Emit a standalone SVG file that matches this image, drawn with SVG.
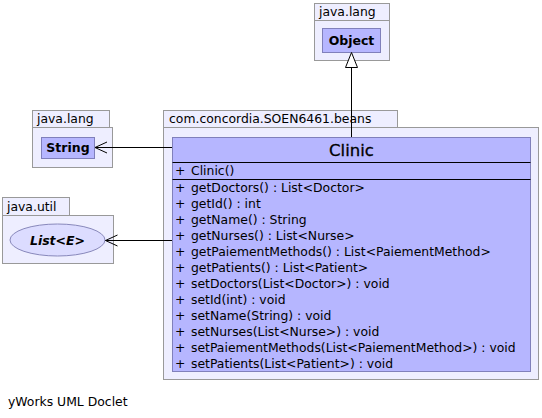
<svg xmlns="http://www.w3.org/2000/svg" width="542" height="418" viewBox="0 0 542 418">
<style>
.pkg{fill:#eeeeff;stroke:#999999;stroke-width:1}
.cls{fill:#b6b6ff;stroke:#8080bb;stroke-width:1}
.t{font-family:"DejaVu Sans",sans-serif;font-size:12.4px;fill:#000}
.b{font-family:"DejaVu Sans",sans-serif;font-weight:bold;fill:#000}
.e{stroke:#000;stroke-width:1;fill:none}
.sep{stroke:#000;stroke-width:1}
</style>
<rect width="542" height="418" fill="#ffffff"/>
<g id="pkg-object">
<rect class="pkg" x="314.5" y="3.5" width="75" height="17"/>
<rect class="pkg" x="314.5" y="20.5" width="75" height="40"/>
<text class="t" x="319" y="16">java.lang</text>
<g id="Object">
<rect class="cls" x="322.5" y="28.5" width="58" height="24"/>
<text class="b" x="351.5" y="45" font-size="12.5" text-anchor="middle">Object</text>
</g>
</g>
<g id="pkg-string">
<rect class="pkg" x="32.5" y="110.5" width="77" height="17"/>
<rect class="pkg" x="32.5" y="127.5" width="80" height="40"/>
<text class="t" x="37" y="123">java.lang</text>
<g id="String">
<rect class="cls" x="41.5" y="137.5" width="53" height="21"/>
<text class="b" x="68" y="152" font-size="12.5" text-anchor="middle">String</text>
</g>
</g>
<g id="pkg-util">
<rect class="pkg" x="2.5" y="197.5" width="67" height="18"/>
<rect class="pkg" x="2.5" y="215.5" width="111" height="48"/>
<text class="t" x="7" y="211">java.util</text>
<g id="List">
<ellipse cx="57.5" cy="240" rx="47.5" ry="16" fill="#dcdcff" stroke="#8888bb"/>
<text class="b" x="57.5" y="244.5" font-size="12.5" font-style="italic" text-anchor="middle">List&lt;E&gt;</text>
</g>
</g>
<g id="pkg-beans">
<rect class="pkg" x="163.5" y="110.5" width="234" height="17"/>
<rect class="pkg" x="163.5" y="127.5" width="375" height="252"/>
<text class="t" x="169" y="123">com.concordia.SOEN6461.beans</text>
<g id="Clinic">
<rect class="cls" x="172.5" y="137.5" width="358" height="234"/>
<text x="351.5" y="155.5" font-family="DejaVu Sans, sans-serif" font-size="16.5" stroke="#000" stroke-width="0.3" text-anchor="middle">Clinic</text>
<line class="sep" x1="172.5" y1="162.5" x2="530.5" y2="162.5"/>
<line class="sep" x1="172.5" y1="179.5" x2="530.5" y2="179.5"/>
<g class="t">
<text x="175" y="175">+</text><text x="191" y="175">Clinic()</text>
<text x="175" y="192">+</text><text x="191" y="192">getDoctors() : List&lt;Doctor&gt;</text>
<text x="175" y="208">+</text><text x="191" y="208">getId() : int</text>
<text x="175" y="224">+</text><text x="191" y="224">getName() : String</text>
<text x="175" y="240">+</text><text x="191" y="240">getNurses() : List&lt;Nurse&gt;</text>
<text x="175" y="256">+</text><text x="191" y="256">getPaiementMethods() : List&lt;PaiementMethod&gt;</text>
<text x="175" y="272">+</text><text x="191" y="272">getPatients() : List&lt;Patient&gt;</text>
<text x="175" y="288">+</text><text x="191" y="288">setDoctors(List&lt;Doctor&gt;) : void</text>
<text x="175" y="304">+</text><text x="191" y="304">setId(int) : void</text>
<text x="175" y="320">+</text><text x="191" y="320">setName(String) : void</text>
<text x="175" y="336">+</text><text x="191" y="336">setNurses(List&lt;Nurse&gt;) : void</text>
<text x="175" y="352">+</text><text x="191" y="352">setPaiementMethods(List&lt;PaiementMethod&gt;) : void</text>
<text x="175" y="368">+</text><text x="191" y="368">setPatients(List&lt;Patient&gt;) : void</text>
</g>
</g>
</g>
<g id="connectors">
<line class="e" x1="351.5" y1="137" x2="351.5" y2="67"/>
<polygon points="351.5,52.5 345.5,67.5 357.5,67.5" fill="#fff" stroke="#000"/>
<line class="e" x1="172" y1="147.5" x2="95" y2="147.5"/>
<polyline class="e" points="107,142 95,147.5 107,153"/>
<line class="e" x1="172" y1="240.5" x2="105.5" y2="240.5"/>
<polyline class="e" points="117.5,235 105.5,240.5 117.5,246"/>
</g>
<text class="t" x="8" y="406" font-size="12">yWorks UML Doclet</text>
</svg>
